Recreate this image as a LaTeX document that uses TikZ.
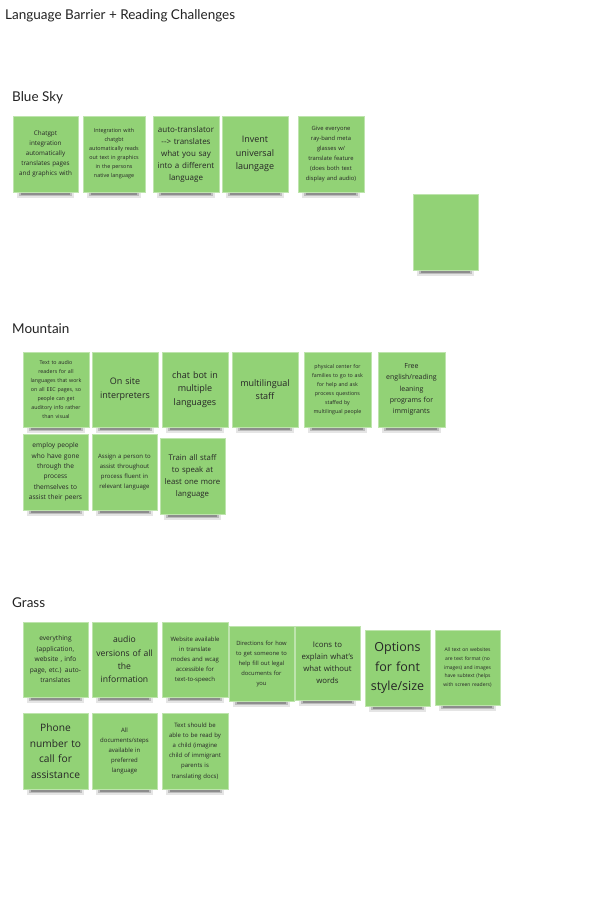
\documentclass[tikz,border=0pt]{standalone}
\usepackage{fontspec}
\setmainfont{Open Sans}
\newfontfamily\headfont{Lato}
\definecolor{sticky}{HTML}{92D276}
\definecolor{heading}{HTML}{222222}
\tikzset{
  note/.style={fill=sticky, draw=sticky!60!white, line width=0.4pt, align=center, inner sep=1pt, text=black!85},
  head/.style={anchor=west, font=\headfont\fontsize{13.5}{15}\selectfont, text=heading, inner sep=0pt},
}
% \mknote{name}{x1}{y1}{x2}{y2}{size}{lead}{text}
\newcommand{\mknote}[8]{%
  \fill[black, opacity=0.10] (#2+4,#5) rectangle (#4-4,#5+6);
  \fill[black, opacity=0.18] (#2+6,#5) rectangle (#4-6,#5+4);
  \fill[black, opacity=0.25] (#2+8,#5) rectangle (#4-8,#5+2.5);
  \node[note, minimum width=#4-#2, minimum height=#5-#3, text width=#4-#2-3, font=\fontsize{#6}{#7}\selectfont] (#1) at ({(#2+#4)/2},{(#3+#5)/2}) {#8};}
\begin{document}
\begin{tikzpicture}[x=1pt,y=-1pt]
\useasboundingbox (0,0) rectangle (600,906);
\node[head] (title) at (5,16) {Language Barrier + Reading Challenges};
\node[head] (blue) at (12,98) {Blue Sky};
\node[head] (mount) at (12,329) {Mountain};
\node[head] (grass) at (12,603) {Grass};
% Blue sky
\mknote{b1}{13}{116}{78}{192}{6.3}{10}{Chatgpt\\integration\\automatically\\translates pages\\and graphics with\\[10pt]}
\mknote{b2}{83}{116}{145}{192}{5.4}{9}{Integration with\\chatgbt\\automatically reads\\out text in graphics\\in the persons\\native language}
\mknote{b3}{153}{116}{219}{192}{8}{12}{auto-translator\\-{}-{}> translates\\what you say\\into a different\\language}
\mknote{b4}{222}{116}{288}{192}{9}{13.5}{Invent\\universal\\laungage\\[8pt]}
\mknote{b5}{298}{116}{364}{192}{5.8}{10}{Give everyone\\ray-band meta\\glasses w/\\translate feature\\(does both text\\display and audio)}
\mknote{b6}{413}{194}{478}{270}{6}{8}{}
% Mountain
\mknote{m1}{23}{352}{89}{427}{5.3}{9}{Text to audio\\readers for all\\languages that work\\on all EEC pages, so\\people can get\\auditory info rather\\than visual}
\mknote{m2}{92}{352}{158}{427}{9}{13.5}{On site\\interpreters\\[10pt]}
\mknote{m3}{162}{352}{228}{427}{9}{13.5}{chat bot in\\multiple\\languages}
\mknote{m4}{232}{352}{298}{427}{9}{13.5}{multilingual\\staff\\[10pt]}
\mknote{m5}{304}{352}{371}{427}{5.3}{9}{physical center for\\families to go to ask\\for help and ask\\process questions\\staffed by\\multilingual people}
\mknote{m6}{378}{352}{445}{427}{7}{11.3}{Free\\english/reading\\leaning\\programs for\\immigrants}
\mknote{m7}{23}{434}{88}{510}{6.6}{10.3}{employ people\\who have gone\\through the\\process\\themselves to\\assist their peers}
\mknote{m8}{92}{434}{157}{510}{6}{10}{Assign a person to\\assist throughout\\process fluent in\\relevant language\\[8pt]}
\mknote{m9}{160}{438}{225}{514}{7.8}{12}{Train all staff\\to speak at\\least one more\\language}
% Grass
\mknote{g1}{23}{622}{88}{697}{6.6}{10.5}{everything\\(application,\\website , info\\page, etc.) auto-\\translates}
\mknote{g2}{92}{622}{157}{697}{8.6}{13.2}{audio\\versions of all\\the\\information}
\mknote{g3}{162}{622}{228}{697}{6}{10}{Website available\\in translate\\modes and wcag\\accessible for\\text-to-speech\\[6pt]}
\mknote{g4}{229}{626}{294}{701}{5.8}{10}{Directions for how\\to get someone to\\help fill out legal\\documents for\\you}
\mknote{g5}{295}{626}{360}{700}{7.8}{12}{Icons to\\explain what's\\what without\\words}
\mknote{g6}{365}{630}{430}{706}{12.5}{19.5}{Options\\for font\\style/size}
\mknote{g7}{435}{630}{500}{705}{5}{8.7}{All text on websites\\are text format (no\\images) and images\\have subtext (helps\\with screen readers)}
\mknote{g8}{23}{713}{88}{789}{10.2}{15.5}{Phone\\number to\\call for\\assistance}
\mknote{g9}{92}{713}{157}{789}{6}{10}{All\\documents/steps\\available in\\preferred\\language\\[6pt]}
\mknote{g10}{162}{713}{228}{789}{6}{10.2}{Text should be\\able to be read by\\a child (imagine\\child of immigrant\\parents is\\translating docs)}
\end{tikzpicture}
\end{document}
